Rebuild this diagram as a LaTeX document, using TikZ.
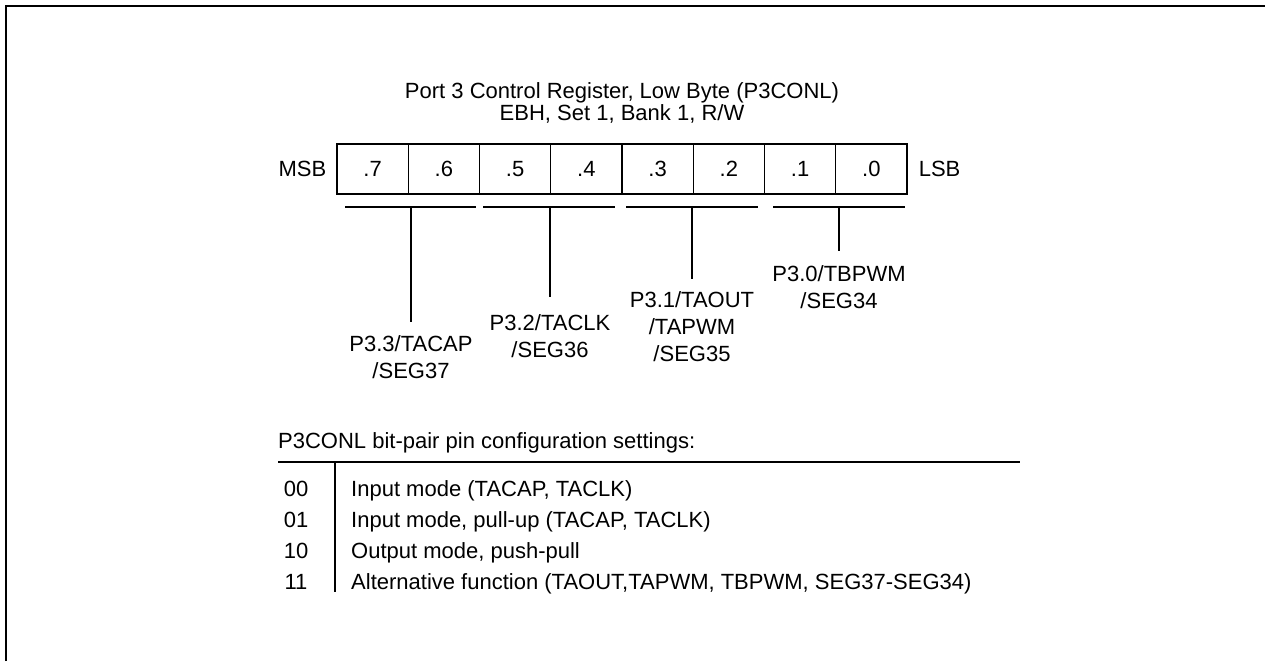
\documentclass[tikz,border=0pt]{standalone}
\usepackage{fontspec}
\setmainfont{Liberation Sans}
\usetikzlibrary{positioning}

\begin{document}
\begin{tikzpicture}[x=1pt,y=-1pt,
    txt/.style={inner sep=0pt,font=\fontsize{22}{27}\selectfont},
    bitcell/.style={draw,line width=1.2pt,minimum width=71.25pt,minimum height=50pt,
                    inner sep=0pt,font=\fontsize{22}{27}\selectfont},
    bar/.style={line width=1.3pt},
    pinlbl/.style={txt,align=center}
  ]
  \useasboundingbox (0,0) rectangle (1265,661);
  % cropped frame (top and left edges only)
  \draw[line width=2pt] (6,661) -- (6,6) -- (1265,6);

  \node[txt,align=center,font=\fontsize{22}{22}\selectfont] (title) at (622,103)
        {Port 3 Control Register, Low Byte (P3CONL)\\EBH, Set 1, Bank 1, R/W};

  % register bits
  \foreach \b in {7,6,...,0}
    \node[bitcell] (c\b) at ({337+71.25*(7.5-\b)},169) {.\b};
  \node[txt,left=10pt of c7]  (msb) {MSB};
  \node[txt,right=11pt of c0] (lsb) {LSB};

  % bit-pair brackets
  \foreach \l/\m/\r/\e [count=\n] in {345/411/476/322, 483/550/615/297,
                                      626/692/758/279, 773/839/905/251}{
    \coordinate (bl\n) at (\l,207);
    \coordinate (br\n) at (\r,207);
    \coordinate (bm\n) at (\m,207);
    \coordinate (t\n)  at (\m,\e);
    \draw[bar] (bl\n) -- (br\n);
    \draw[bar] (bm\n) -- (t\n);
  }
  \node[pinlbl,below=13pt of t1] (pin33) {P3.3/TACAP\\/SEG37};
  \node[pinlbl,below=17pt of t2] (pin32) {P3.2/TACLK\\/SEG36};
  \node[pinlbl,below=12pt of t3] (pin31) {P3.1/TAOUT\\/TAPWM\\/SEG35};
  \node[pinlbl,below=14pt of t4] (pin30) {P3.0/TBPWM\\/SEG34};

  % settings table
  \node[txt,anchor=base west] (cfghead) at (278,448) {P3CONL bit-pair pin configuration settings:};
  \coordinate (hl) at (278,462);
  \coordinate (hr) at (1020,462);
  \coordinate (vt) at (335,462);
  \coordinate (vb) at (335,592);
  \draw[bar] (hl) -- (hr);
  \draw[bar] (vt) -- (vb);
  \foreach \c/\d [count=\i] in {00/{Input mode (TACAP, TACLK)},
                                01/{Input mode, pull-up (TACAP, TACLK)},
                                10/{Output mode, push-pull},
                                11/{Alternative function (TAOUT,TAPWM, TBPWM, SEG37-SEG34)}}{
    \node[txt,anchor=base] (code\i) at (296,{496+31*(\i-1)}) {\c};
    \node[txt,anchor=base west] (mode\i) at (351,{496+31*(\i-1)}) {\d};
  }
\end{tikzpicture}
\end{document}
